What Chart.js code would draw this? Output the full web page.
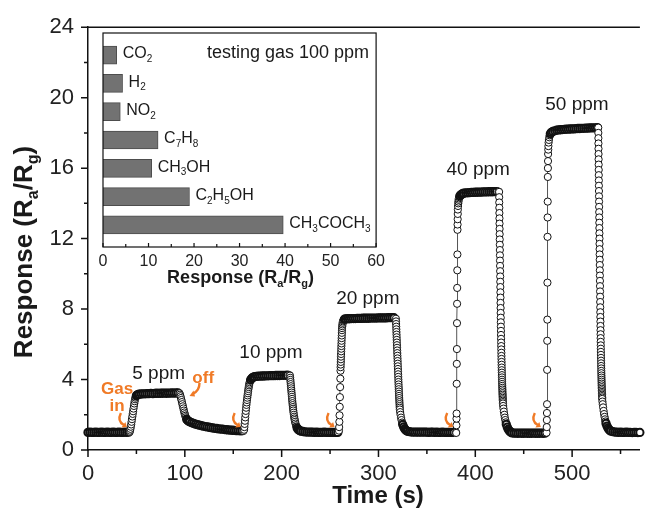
<!DOCTYPE html>
<html>
<head>
<meta charset="utf-8">
<script src="https://cdn.jsdelivr.net/npm/chart.js@4.4.1/dist/chart.umd.min.js"></script>
<style>
  body { margin: 0; background: #fff; }
  #wrap { position: relative; width: 646px; height: 512px; }
  #main { position: absolute; left: 0; top: 0; }
  #inset { position: absolute; left: 90px; top: 28px; }
</style>
</head>
<body>
<div id="wrap">
  <canvas id="main" width="646" height="512"></canvas>
  <canvas id="inset" width="300" height="268"></canvas>
</div>
<script>
const FONT = '"Liberation Sans", Arial, sans-serif';
Chart.defaults.font.family = FONT;

// response curve, [time (s), Ra/Rg]
const base0 = [[0,1.0],[2,1.01],[4,1.0],[6,1.0],[8,1.01],[10,1.0],[12,1.0],[14,1.01],[16,1.0],[18,1.0],[20,1.01],[22,1.0],[24,1.0],[26,1.01],[28,1.0],[30,1.0],[32,1.01],[34,1.0],[36,1.0],[38,1.01],[40,1.0],[42,1.01]];

const pulse5 = [
  [43,1.03],[43.4,1.1],[43.8,1.2],[44.2,1.32],[44.6,1.45],[45,1.6],[45.4,1.75],[45.8,1.9],[46.2,2.05],[46.6,2.2],[47,2.35],[47.4,2.5],[47.8,2.64],[48.2,2.77],[48.6,2.88],[49,2.97],[49.5,3.04],[50,3.09],[51,3.13],[52,3.16],[53,3.17],[55,3.18],[57,3.19],
  [59,3.19],[61,3.2],[63,3.2],[65,3.21],[67,3.2],[69,3.21],[71,3.22],[73,3.21],[75,3.22],[77,3.22],[79,3.23],[81,3.22],[83,3.23],[85,3.23],[87,3.24],[89,3.23],[91,3.24],[93,3.24],
  [94.5,3.22],[95,3.14],[95.5,3.05],[96,2.95],[96.5,2.84],[97,2.72],[97.5,2.6],[98,2.48],[98.5,2.36],[99,2.24],[99.5,2.13],[100,2.03],[100.5,1.94],[101,1.86],[101.5,1.79],[102,1.73],[103,1.67],[104,1.63],[105,1.6],
  [107,1.55],[109,1.51],[111,1.47],[113,1.44],[115,1.41],[117,1.38],[119,1.35],[121,1.33],[123,1.31],[125,1.29],[127,1.27],[129,1.25],[131,1.23],[133,1.22],[135,1.2],[137,1.19],[139,1.18],[141,1.16],[143,1.15],[145,1.14],[147,1.13],[149,1.12],[151,1.11],[153,1.1],[155,1.1],[157,1.09],[159,1.09]
];

const pulse10 = [
  [160.5,1.08],[161.2,1.15],[161.5,1.3],[161.8,1.48],[162.1,1.66],[162.4,1.85],[162.7,2.04],[163,2.22],[163.3,2.4],[163.6,2.56],[163.9,2.7],[164.2,2.84],[164.5,2.97],[164.8,3.1],[165.1,3.22],[165.4,3.34],[165.7,3.46],[166,3.57],[166.3,3.67],[166.6,3.76],[167,3.85],[167.5,3.93],[168,3.99],[169,4.06],[170,4.11],[171,4.14],[172,4.16],[174,4.18],[176,4.19],
  [178,4.19],[180,4.2],[182,4.2],[184,4.21],[186,4.21],[188,4.22],[190,4.22],[192,4.22],[194,4.23],[196,4.23],[198,4.23],[200,4.24],[202,4.24],[204,4.24],[206,4.25],[208,4.25],
  [208.6,4.22],[208.8,4.1],[209,3.98],[209.2,3.86],[209.4,3.74],[209.6,3.62],[209.8,3.5],[210,3.38],[210.2,3.26],[210.4,3.14],[210.6,3.02],[210.8,2.9],[211,2.78],[211.2,2.66],[211.4,2.55],[211.6,2.44],[211.8,2.34],[212,2.24],[212.3,2.12],[212.6,2.0],[212.9,1.89],[213.2,1.79],[213.5,1.7],[213.9,1.6],[214.3,1.5],[214.8,1.41],[215.3,1.33],[216,1.25],[217,1.17],[218,1.12],[219,1.09],[220,1.07],[222,1.05],[224,1.03],
  [226,1.02],[228,1.02],[230,1.01],[232,1.01],[234,1.0],[236,1.01],[238,1.0],[240,1.0],[242,1.0],[244,1.01],[246,1.0],[248,1.0],[250,1.0],[252,1.0],[254,1.0],[256,1.0]
];

const pulse20 = [
  [258,1.0],[259.2,1.1],[259.4,1.3],[259.6,1.6],[259.8,1.97],[260,2.45],[260.2,3.0],[260.4,3.57],[260.6,4.05],[260.8,4.5],[260.9,4.7],[261,4.85],[261.1,5.0],[261.2,5.15],[261.3,5.3],[261.4,5.45],[261.5,5.6],[261.6,5.75],[261.7,5.9],[261.8,6.05],[261.9,6.2],[262,6.35],[262.1,6.5],[262.2,6.65],[262.3,6.8],[262.4,6.92],[262.6,7.03],[262.8,7.13],[263,7.22],[263.3,7.3],[263.7,7.36],[264.2,7.4],[265,7.43],[266,7.44],[268,7.45],
  [270,7.45],[272,7.46],[274,7.46],[276,7.46],[278,7.47],[280,7.47],[282,7.47],[284,7.48],[286,7.48],[288,7.48],[290,7.48],[292,7.49],[294,7.49],[296,7.49],[298,7.49],[300,7.5],[302,7.5],[304,7.5],[306,7.5],[308,7.5],[310,7.51],[312,7.51],[314,7.51],[316,7.51],
  [318.00,7.45],[318.11,7.3],[318.22,7.15],[318.33,7.0],[318.44,6.85],[318.55,6.7],[318.66,6.55],[318.77,6.4],[318.88,6.25],[318.99,6.1],[319.10,5.95],[319.21,5.8],[319.32,5.65],[319.43,5.5],[319.54,5.35],[319.65,5.2],[319.76,5.05],[319.87,4.9],[319.98,4.75],[320.09,4.6],[320.20,4.45],[320.31,4.3],[320.42,4.15],[320.53,4.0],[320.64,3.86],[320.75,3.72],[320.86,3.58],[320.97,3.45],[321.08,3.32],[321.19,3.19],[321.30,3.07],[321.41,2.95],[321.52,2.83],[321.63,2.72],[321.74,2.61],[321.85,2.5],[321.96,2.4],[322.07,2.3],
  [322.4,2.15],[322.8,2.0],[323.3,1.84],[323.8,1.7],[324.4,1.56],[325,1.45],[326,1.31],[327,1.21],[328,1.14],[329,1.09],[330,1.06],[332,1.04],[334,1.02],
  [336,1.02],[338,1.01],[340,1.02],[342,1.01],[344,1.01],[346,1.02],[348,1.01],[350,1.01],[352,1.0],[354,1.01],[356,1.01],[358,1.0],[360,1.01],[362,1.0],[364,1.0],[366,1.01],[368,1.0],[370,1.0],[372,1.0],[374,1.0],[376,1.0],[378,1.0]
];

const pulse40 = [
  [380,1.0],[380.3,0.97],[380.5,1.4],[380.6,1.78],[380.7,2.07],[380.8,3.76],[380.9,4.89],[381,5.73],[381.1,7.2],[381.2,8.3],[381.3,9.2],[381.4,10.2],[381.5,11.1],[381.6,12.5],[381.7,12.8],[381.8,13.1],[381.9,13.4],[382,13.65],[382.2,13.85],[382.4,14.0],[382.6,14.1],[382.8,14.2],[383,14.28],[383.5,14.35],[384,14.42],[385,14.48],[386,14.52],[387,14.55],[388,14.58],[390,14.6],
  [392,14.6],[394,14.61],[396,14.62],[398,14.62],[400,14.63],[402,14.63],[404,14.64],[406,14.64],[408,14.65],[410,14.65],[412,14.65],[414,14.66],[416,14.66],[418,14.66],[420,14.67],[422,14.67],[424,14.67],
  [424.60,14.65],[424.67,14.35],[424.74,14.05],[424.81,13.75],[424.88,13.45],[424.95,13.15],[425.02,12.85],[425.09,12.55],[425.16,12.25],[425.23,11.95],[425.30,11.65],[425.37,11.35],[425.44,11.05],[425.51,10.75],[425.58,10.45],[425.65,10.15],[425.72,9.85],[425.79,9.55],[425.86,9.25],[425.93,8.95],[426.00,8.65],[426.07,8.35],[426.14,8.06],[426.21,7.78],[426.28,7.51],[426.35,7.25],[426.42,7.0],[426.49,6.76],[426.56,6.53],[426.63,6.31],[426.70,6.1],[426.77,5.9],[426.84,5.71],[426.91,5.52],[426.98,5.34],[427.05,5.17],[427.12,5.0],[427.19,4.84],[427.26,4.68],[427.33,4.53],[427.40,4.39],[427.47,4.25],[427.54,4.12],[427.61,3.99],[427.68,3.87],[427.75,3.75],[427.82,3.64],[427.89,3.53],[427.96,3.43],[428.03,3.33],[428.10,3.23],[428.17,3.14],[428.24,3.05],[428.31,2.96],[428.38,2.88],[428.45,2.8],[428.52,2.72],[428.59,2.64],
  [428.8,2.5],[429.1,2.35],[429.5,2.18],[430,2.0],[430.5,1.84],[431,1.7],[431.5,1.57],[432,1.46],[433,1.3],[434,1.18],[435,1.1],[436,1.04],[437,1.0],[438,0.97],[440,0.96],
  [442,0.96],[444,0.95],[446,0.96],[448,0.95],[450,0.95],[452,0.96],[454,0.95],[456,0.95],[458,0.95],[460,0.96],[462,0.95],[464,0.95],[466,0.95],[468,0.96],[470,0.95]
];

const pulse50 = [
  [472,0.96],[473.6,0.98],[473.8,1.3],[473.9,1.7],[474,2.1],[474.1,2.6],[474.2,4.55],[474.3,6.2],[474.4,7.4],[474.5,9.5],[474.6,12.1],[474.7,13.2],[474.8,14.1],[474.9,15.5],[475,16.0],[475.1,16.4],[475.2,16.8],[475.35,17.05],[475.5,17.25],[475.7,17.45],[476,17.6],[476.4,17.75],[476.9,17.86],[477.5,17.95],[478.5,18.03],[480,18.08],[482,18.12],[484,18.15],[486,18.17],
  [488,18.18],[490,18.19],[492,18.2],[494,18.21],[496,18.21],[498,18.22],[500,18.23],[502,18.23],[504,18.24],[506,18.25],[508,18.25],[510,18.26],[512,18.26],[514,18.27],[516,18.27],[518,18.28],[520,18.28],[522,18.29],[524,18.29],[526,18.3],
  [527.00,18.3],[527.06,18.0],[527.12,17.7],[527.18,17.4],[527.24,17.1],[527.30,16.8],[527.36,16.5],[527.42,16.2],[527.48,15.9],[527.54,15.6],[527.60,15.3],[527.66,15.0],[527.72,14.7],[527.78,14.4],[527.84,14.1],[527.90,13.8],[527.96,13.5],[528.02,13.2],[528.08,12.9],[528.14,12.6],[528.20,12.3],[528.26,12.0],[528.32,11.7],[528.38,11.4],[528.44,11.1],[528.50,10.8],[528.56,10.5],[528.62,10.2],[528.68,9.9],[528.74,9.6],[528.80,9.3],[528.86,9.0],[528.92,8.7],[528.98,8.4],[529.04,8.1],[529.10,7.82],[529.16,7.55],[529.22,7.29],[529.28,7.04],[529.34,6.8],[529.40,6.57],[529.46,6.35],[529.52,6.14],[529.58,5.94],[529.64,5.75],[529.70,5.57],[529.76,5.4],[529.82,5.23],[529.88,5.07],[529.94,4.92],[530.00,4.77],[530.06,4.63],[530.12,4.49],[530.18,4.36],[530.24,4.23],[530.30,4.11],[530.36,3.99],[530.42,3.88],[530.48,3.77],[530.54,3.67],[530.60,3.57],[530.66,3.48],[530.72,3.39],[530.78,3.3],[530.84,3.22],[530.90,3.14],[530.96,3.06],[531.02,2.98],[531.08,2.9],
  [531.3,2.75],[531.6,2.6],[532,2.42],[532.5,2.22],[533,2.04],[533.5,1.88],[534,1.74],[534.5,1.62],[535,1.51],[536,1.36],[537,1.25],[538,1.17],[539,1.11],[540,1.07],[542,1.04],[544,1.02],
  [546,1.01],[548,1.0],[550,1.01],[552,1.0],[554,1.0],[556,1.01],[558,1.0],[560,1.0],[562,0.99],[564,1.0],[566,1.0],[568,0.99],[570,1.0]
];

// labels on the main plot
const ppmText = ['5 ppm', '10 ppm', '20 ppm', '40 ppm', '50 ppm'];
const ppmT = [73, 189, 289, 403, 505];
const ppmR = [4.3, 5.5, 8.6, 15.9, 19.6];
const gasInT = [35, 152.5, 249.5, 372, 462.5];
const gasInR = 1.7;
const offT = 110, offR = 3.4;

// inset: selectivity to 100 ppm of each gas
const gasNames = ['CO2', 'H2', 'NO2', 'C7H8', 'CH3OH', 'C2H5OH', 'CH3COCH3'];
const gasResp = [3.0, 4.3, 3.8, 12.1, 10.7, 19.0, 39.6];

const curve = [].concat(base0, pulse5, pulse10, pulse20, pulse40, pulse50).map(p => ({x: p[0], y: p[1]}));

// draw text where parts flagged true are subscripts
function richText(ctx, parts, x, y, size, weight, align) {
  const sub = Math.round(size * 0.62);
  let w = 0;
  parts.forEach(p => {
    ctx.font = weight + ' ' + (p[1] ? sub : size) + 'px ' + FONT;
    w += ctx.measureText(p[0]).width;
  });
  let cx = align === 'center' ? x - w / 2 : (align === 'right' ? x - w : x);
  ctx.textAlign = 'left';
  ctx.textBaseline = 'middle';
  parts.forEach(p => {
    ctx.font = weight + ' ' + (p[1] ? sub : size) + 'px ' + FONT;
    ctx.fillText(p[0], cx, p[1] ? y + size * 0.33 : y);
    cx += ctx.measureText(p[0]).width;
  });
}

function formula(name) {
  return name.split(/(\d+)/).filter(s => s).map(s => [s, /\d/.test(s)]);
}

const RaRg = [['Response (R', false], ['a', true], ['/R', false], ['g', true], [')', false]];
const ORANGE = '#f07a26';

function gasArrow(ctx, x, y) {
  ctx.beginPath();
  ctx.moveTo(x - 1, y - 7);
  ctx.quadraticCurveTo(x - 5, y + 1, x + 2, y + 5);
  ctx.stroke();
  ctx.beginPath();
  ctx.moveTo(x + 5, y + 7);
  ctx.lineTo(x - 0.5, y + 7.5);
  ctx.lineTo(x + 3.5, y + 2);
  ctx.closePath();
  ctx.fill();
}

function offArrow(ctx, x, y) {
  ctx.beginPath();
  ctx.moveTo(x + 5, y - 7);
  ctx.quadraticCurveTo(x + 5, y + 1, x - 2, y + 4);
  ctx.stroke();
  ctx.beginPath();
  ctx.moveTo(x - 5, y + 6);
  ctx.lineTo(x - 1, y + 0.5);
  ctx.lineTo(x + 0.5, y + 6.5);
  ctx.closePath();
  ctx.fill();
}

const mainDeco = {
  id: 'mainDeco',
  afterDraw(chart) {
    const {ctx, chartArea: a, scales: {x, y}} = chart;
    ctx.save();
    ctx.strokeStyle = '#111';
    ctx.lineWidth = 1.5;
    ctx.beginPath();
    ctx.moveTo(a.left, a.top);
    ctx.lineTo(a.right, a.top);
    for (let v = 0; v <= 570; v += 50) {
      const px = x.getPixelForValue(v);
      ctx.moveTo(px, a.bottom);
      ctx.lineTo(px, a.bottom + (v % 100 === 0 ? 7 : 4));
    }
    for (let v = 0; v <= 24; v += 2) {
      const py = y.getPixelForValue(v);
      ctx.moveTo(a.left, py);
      ctx.lineTo(a.left - (v % 4 === 0 ? 7 : 4), py);
    }
    ctx.stroke();

    ctx.fillStyle = '#1a1a1a';
    richText(ctx, [['Time (s)', false]], 378, 496, 24, 'bold', 'center');
    ctx.save();
    ctx.translate(25, 252);
    ctx.rotate(-Math.PI / 2);
    richText(ctx, RaRg, 0, 0, 26, 'bold', 'center');
    ctx.restore();

    ppmText.forEach((t, i) => {
      richText(ctx, [[t, false]], x.getPixelForValue(ppmT[i]), y.getPixelForValue(ppmR[i]), 19, 'normal', 'center');
    });

    ctx.fillStyle = ORANGE;
    ctx.strokeStyle = ORANGE;
    ctx.lineWidth = 2.4;
    richText(ctx, [['Gas', false]], x.getPixelForValue(30), y.getPixelForValue(3.45), 17, 'bold', 'center');
    richText(ctx, [['in', false]], x.getPixelForValue(30), y.getPixelForValue(2.5), 17, 'bold', 'center');
    richText(ctx, [['off', false]], x.getPixelForValue(119), y.getPixelForValue(4.05), 17, 'bold', 'center');
    gasInT.forEach(t => gasArrow(ctx, x.getPixelForValue(t), y.getPixelForValue(gasInR)));
    offArrow(ctx, x.getPixelForValue(offT), y.getPixelForValue(offR));
    ctx.restore();
  }
};

// heavier outline where the samples sit close together, so dense runs read as a solid band
function markerWidth(c) {
  const d = c.dataset.data;
  const i = c.dataIndex;
  const nxt = d[i + 1];
  if (!nxt) return 2;
  return nxt.x - d[i].x >= 1 ? 2.1 : 1;
}

new Chart(document.getElementById('main'), {
  type: 'line',
  data: {
    datasets: [{
      data: curve,
      borderColor: '#555',
      borderWidth: 1,
      pointRadius: 3.6,
      pointBorderWidth: markerWidth,
      pointBorderColor: '#111',
      pointBackgroundColor: '#fff',
      tension: 0,
      clip: false
    }]
  },
  options: {
    responsive: false,
    animation: false,
    devicePixelRatio: 1,
    layout: { padding: { top: 24, right: 0, left: 0, bottom: 0 } },
    plugins: { legend: { display: false }, tooltip: { enabled: false } },
    scales: {
      x: {
        type: 'linear', min: 0, max: 570,
        grid: { display: false, drawTicks: false },
        border: { color: '#111', width: 1.5 },
        ticks: { stepSize: 100, includeBounds: false, font: { size: 22 }, color: '#222', padding: 11, maxRotation: 0 },
        afterFit: s => { s.height = 62; }
      },
      y: {
        type: 'linear', min: 0, max: 24,
        grid: { display: false, drawTicks: false },
        border: { color: '#111', width: 1.5 },
        ticks: { stepSize: 4, font: { size: 22 }, color: '#222', padding: 14 },
        afterFit: s => { s.width = 88; }
      }
    }
  },
  plugins: [mainDeco]
});

const insetDeco = {
  id: 'insetDeco',
  beforeDraw(chart) {
    const {ctx, chartArea: a} = chart;
    ctx.save();
    ctx.fillStyle = '#fff';
    ctx.fillRect(a.left, a.top, a.right - a.left, a.bottom - a.top);
    ctx.restore();
  },
  afterDraw(chart) {
    const {ctx, chartArea: a, scales: {x, y}} = chart;
    ctx.save();
    ctx.strokeStyle = '#111';
    ctx.lineWidth = 1.2;
    ctx.strokeRect(a.left, a.top, a.right - a.left, a.bottom - a.top);
    ctx.beginPath();
    for (let v = 0; v <= 60; v += 5) {
      const px = x.getPixelForValue(v);
      ctx.moveTo(px, a.bottom);
      ctx.lineTo(px, a.bottom - (v % 10 === 0 ? 4 : 3));
    }
    ctx.stroke();
    ctx.fillStyle = '#1a1a1a';
    gasNames.forEach((g, i) => {
      richText(ctx, formula(g), x.getPixelForValue(gasResp[i]) + 6, y.getPixelForValue(i + 1) - 1, 16, 'normal', 'left');
    });
    richText(ctx, [['testing gas 100 ppm', false]], a.right - 7, a.top + 20, 18, 'normal', 'right');
    richText(ctx, RaRg, (a.left + a.right) / 2 + 1, a.bottom + 31, 18, 'bold', 'center');
    ctx.restore();
  }
};

new Chart(document.getElementById('inset'), {
  type: 'bar',
  data: {
    datasets: [{
      data: gasNames.map((g, i) => ({ x: gasResp[i], y: i + 1 })),
      backgroundColor: '#727272',
      borderColor: '#4d4d4d',
      borderWidth: 1,
      barThickness: 18
    }]
  },
  options: {
    indexAxis: 'y',
    responsive: false,
    animation: false,
    devicePixelRatio: 1,
    layout: { padding: { top: 5, left: 13, right: 11, bottom: 0 } },
    plugins: { legend: { display: false }, tooltip: { enabled: false } },
    scales: {
      x: {
        type: 'linear', min: 0, max: 60,
        grid: { display: false, drawTicks: false },
        border: { display: false },
        ticks: { stepSize: 10, font: { size: 16 }, color: '#222', padding: 5, maxRotation: 0 },
        afterFit: s => { s.height = 49; }
      },
      y: { type: 'linear', min: 0.22, max: 7.78, reverse: true, offset: false, display: false }
    }
  },
  plugins: [insetDeco]
});
</script>
</body>
</html>
